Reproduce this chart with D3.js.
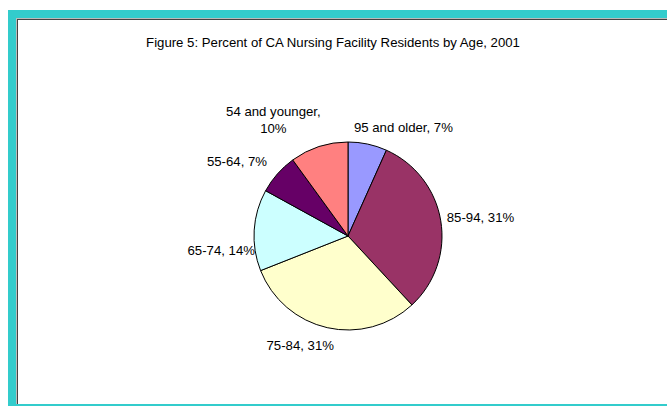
<!DOCTYPE html>
<html>
<head>
<meta charset="utf-8">
<script src="https://cdn.jsdelivr.net/npm/d3@7"></script>
<style>
  html, body { margin: 0; padding: 0; background: #fff; overflow: hidden; }
  svg { display: block; overflow: hidden; }
  text { font-family: "Liberation Sans", Arial, sans-serif; fill: #000; }
</style>
</head>
<body>
<svg id="chart" width="667" height="406"></svg>
<script>
// ---- data ----
const title = "Figure 5: Percent of CA Nursing Facility Residents by Age, 2001";
const categories = ["95 and older", "85-94", "75-84", "65-74", "55-64", "54 and younger"];
const values = [6.7, 31.4, 30.9, 14.0, 7.0, 10.0];
const valueLabels = ["7%", "31%", "31%", "14%", "7%", "10%"];
const colors = ["#9999FF", "#993366", "#FFFFCC", "#CCFFFF", "#660066", "#FF8080"];

// ---- layout ----
const W = 667, H = 406;
const cx = 348, cy = 236, R = 94;
const FS = 13.2;
const svg = d3.select("#chart");

// frame (runs off the right edge, as in the cropped original)
svg.append("rect").attr("x", 8).attr("y", 10).attr("width", W - 8).attr("height", H - 10).attr("fill", "#33CCCC");
svg.append("rect").attr("x", 16).attr("y", 18).attr("width", W - 16).attr("height", 386).attr("fill", "#fff");
svg.append("line").attr("x1", 16.5).attr("y1", 18).attr("x2", 16.5).attr("y2", 404).attr("stroke", "#bbb").attr("stroke-width", 1);
svg.append("line").attr("x1", 16).attr("y1", 18.5).attr("x2", W).attr("y2", 18.5).attr("stroke", "#bbb").attr("stroke-width", 1);
svg.append("line").attr("x1", 17.5).attr("y1", 19).attr("x2", 17.5).attr("y2", 404).attr("stroke", "#444").attr("stroke-width", 1);
svg.append("line").attr("x1", 17).attr("y1", 19.5).attr("x2", W).attr("y2", 19.5).attr("stroke", "#444").attr("stroke-width", 1);

// title
svg.append("text").attr("x", 333).attr("y", 47).attr("text-anchor", "middle")
  .attr("font-size", FS).text(title);

const data = categories.map((c, i) => ({ cat: c, value: values[i], label: valueLabels[i], color: colors[i] }));
const pie = d3.pie().value(d => d.value).sort(null);
const arcs = pie(data);
const arc = d3.arc().innerRadius(0).outerRadius(R);

const g = svg.append("g").attr("transform", `translate(${cx},${cy})`);
g.selectAll("path").data(arcs).join("path")
  .attr("d", arc)
  .attr("fill", d => d.data.color)
  .attr("stroke", "#000")
  .attr("stroke-width", 1);

// labels: base point on a label arc, then Excel-like placement nudges
const labelR = R + 18;
const nudges = {
  "95 and older": [32, 1],
  "85-94": [22, 0],
  "75-84": [-23, 0],
  "65-74": [-15, 22],
  "55-64": [-27, 0],
  "54 and younger": [-40, -10]
};
arcs.forEach(a => {
  const mid = (a.startAngle + a.endAngle) / 2;
  const bx = labelR * Math.sin(mid), by = -labelR * Math.cos(mid);
  const n = nudges[a.data.cat];
  const x = bx + n[0], y = by + n[1];
  const t = g.append("text").attr("text-anchor", "middle").attr("font-size", FS);
  if (a.data.cat === "54 and younger") {
    t.append("tspan").attr("x", x).attr("y", y - 8 + 4.5).text(a.data.cat + ",");
    t.append("tspan").attr("x", x).attr("y", y + 9 + 4.5).text(a.data.label);
  } else {
    t.attr("x", x).attr("y", y + 4.5).text(a.data.cat + ", " + a.data.label);
  }
});
</script>
</body>
</html>
